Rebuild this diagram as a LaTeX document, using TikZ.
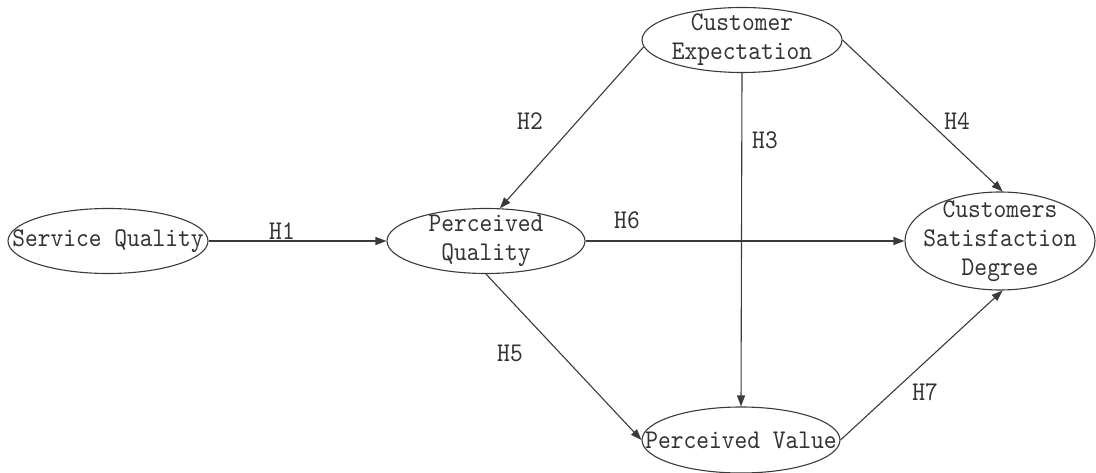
\documentclass[tikz,border=0pt]{standalone}
\usepackage{fontspec}
\newfontfamily\mfont{lmmono10-regular.otf}[FakeStretch=0.9]
\usetikzlibrary{shapes.geometric,arrows.meta}
\definecolor{ink}{HTML}{333333}
\definecolor{edge}{HTML}{3A3A3A}
\tikzset{
  oval/.style={ellipse,draw=edge,line width=1.1pt,inner sep=0pt},
  otext/.style={inner sep=0pt,align=center,text=ink,
    font=\mfont\fontsize{27}{29}\selectfont},
  link/.style={draw=edge,line width=1.1pt,-{Triangle[length=11pt,width=8pt]}},
  hlab/.style={text=ink,inner sep=0pt,font=\mfont\fontsize{27}{29}\selectfont}
}
\begin{document}
\begin{tikzpicture}[x=1pt,y=-1pt]
\useasboundingbox (0,0) rectangle (1096,473);
\node[oval,minimum width=200pt,minimum height=65pt] (sq) at (108,241) {};
\node[oval,minimum width=198pt,minimum height=65pt] (pq) at (486,241) {};
\node[oval,minimum width=200pt,minimum height=65pt] (ce) at (742,40) {};
\node[oval,minimum width=190pt,minimum height=98pt] (csd) at (1000,241) {};
\node[oval,minimum width=198pt,minimum height=66pt] (pv) at (741,440) {};

\node[otext] (sqt) at (sq.center) {Service Quality};
\node[otext] (pqt) at (pq.center) {Perceived\\Quality};
\node[otext] (cet) at (ce.center) {Customer\\Expectation};
\node[otext] (csdt) at (csd.center) {Customers\\Satisfaction\\Degree};
\node[otext] (pvt) at (pv.center) {Perceived Value};

\draw[link] (sq.east) -- (pq.west);
\draw[link] (ce.184) -- (pq.67);
\draw[link] (ce.south) -- (pv.north);
\draw[link] (ce.east) -- (csd.87);
\draw[link] (pq.east) -- (csd.west);
\draw[link] (pq.south) -- (pv.west);
\draw[link] (pv.east) -- (csd.-87);

\node[hlab] (h1) at (282,231) {H1};
\node[hlab] (h2) at (530,121) {H2};
\node[hlab] (h3) at (765,140) {H3};
\node[hlab] (h4) at (957,121) {H4};
\node[hlab] (h5) at (510,353) {H5};
\node[hlab] (h6) at (627,220) {H6};
\node[hlab] (h7) at (925,392) {H7};
\end{tikzpicture}
\end{document}
